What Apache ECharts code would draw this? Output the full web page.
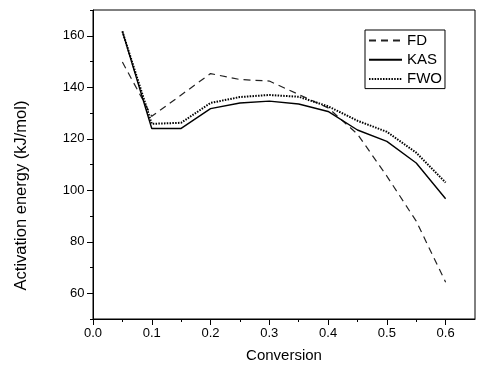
<!DOCTYPE html>
<html>
<head>
<meta charset="utf-8">
<script src="https://cdn.jsdelivr.net/npm/echarts@6/dist/echarts.min.js"></script>
<style>
html,body{margin:0;padding:0;background:#fff;}
#chart{width:486px;height:369px;}
</style>
</head>
<body>
<div id="chart"></div>
<script>
// Data
var conversion = [0.05, 0.1, 0.15, 0.2, 0.25, 0.3, 0.35, 0.4, 0.45, 0.5, 0.55, 0.6];
var fdValues  = [149.8, 128.7, 137.0, 145.3, 143.0, 142.4, 137.2, 132.0, 121.8, 105.5, 88.0, 64.3];
var kasValues = [161.7, 124.0, 124.0, 131.7, 133.9, 134.6, 133.5, 130.6, 123.4, 119.0, 110.6, 96.7];
var fwoValues = [161.7, 125.8, 126.2, 133.9, 136.2, 137.0, 136.3, 132.6, 127.0, 122.7, 114.6, 103.0];
var seriesNames = ['FD', 'KAS', 'FWO'];
var xMajorTicks = [0, 0.1, 0.2, 0.3, 0.4, 0.5, 0.6];
var xMinorTicks = [0.05, 0.15, 0.25, 0.35, 0.45, 0.55];
var yMajorTicks = [60, 80, 100, 120, 140, 160];
var yMinorTicks = [50, 70, 90, 110, 130, 150, 170];
var xTitle = 'Conversion';
var yTitle = 'Activation energy (kJ/mol)';

function pairs(xs, ys) {
  return xs.map(function (x, i) { return [x, ys[i]]; });
}

var font = 'Liberation Sans, Arial, sans-serif';
var chart = echarts.init(document.getElementById('chart'), null, {renderer: 'canvas'});
chart.setOption({
  animation: false,
  backgroundColor: '#fff',
  grid: {
    left: 93, right: 11, top: 10, bottom: 50,
    show: true, borderColor: '#000', borderWidth: 1, backgroundColor: 'transparent'
  },
  legend: {
    orient: 'vertical',
    left: 365, top: 30,
    padding: [3, 3, 2, 3],
    itemGap: 4.3,
    itemWidth: 33, itemHeight: 14,
    borderColor: '#000', borderWidth: 1,
    backgroundColor: '#fff',
    itemStyle: {opacity: 0, borderWidth: 0},
    data: seriesNames,
    textStyle: {fontFamily: font, fontSize: 15, color: '#000', lineHeight: 14}
  },
  xAxis: [{
    type: 'value', min: 0, max: 0.65, position: 'bottom',
    name: xTitle, nameLocation: 'middle', nameGap: 29,
    nameTextStyle: {fontFamily: font, fontSize: 15, color: '#000'},
    axisLine: {show: true, lineStyle: {color: '#000', width: 1}},
    axisTick: {show: true, length: 6, inside: false, customValues: xMajorTicks, lineStyle: {color: '#000'}},
    axisLabel: {fontFamily: font, fontSize: 13, color: '#000', margin: 8, customValues: xMajorTicks,
      formatter: function (v) { return Number(v).toFixed(1); }},
    splitLine: {show: false}
  }, {
    type: 'value', min: 0, max: 0.65, position: 'bottom',
    axisLine: {show: false},
    axisTick: {show: true, length: 3, inside: false, customValues: xMinorTicks, lineStyle: {color: '#000'}},
    axisLabel: {show: false},
    splitLine: {show: false}
  }],
  yAxis: [{
    type: 'value', min: 50, max: 170, position: 'left',
    name: yTitle, nameLocation: 'middle', nameGap: 63, nameRotate: 90,
    nameTextStyle: {fontFamily: font, fontSize: 16.5, color: '#000', padding: [0, 62, 0, 0]},
    axisLine: {show: true, lineStyle: {color: '#000', width: 1}},
    axisTick: {show: true, length: 6, inside: false, customValues: yMajorTicks, lineStyle: {color: '#000'}},
    axisLabel: {fontFamily: font, fontSize: 13, color: '#000', margin: 8.5, customValues: yMajorTicks},
    splitLine: {show: false}
  }, {
    type: 'value', min: 50, max: 170, position: 'left',
    axisLine: {show: false},
    axisTick: {show: true, length: 3, inside: false, customValues: yMinorTicks, lineStyle: {color: '#000'}},
    axisLabel: {show: false},
    splitLine: {show: false}
  }],
  series: [{
    name: seriesNames[0], type: 'line', xAxisIndex: 0, yAxisIndex: 0,
    data: pairs(conversion, fdValues), symbol: 'none',
    lineStyle: {color: '#222', width: 1.2, type: [7, 5]},
    itemStyle: {color: '#222'}
  }, {
    name: seriesNames[1], type: 'line', xAxisIndex: 0, yAxisIndex: 0,
    data: pairs(conversion, kasValues), symbol: 'none',
    lineStyle: {color: '#000', width: 1.4, type: 'solid'},
    itemStyle: {color: '#000'}
  }, {
    name: seriesNames[2], type: 'line', xAxisIndex: 0, yAxisIndex: 0,
    data: pairs(conversion, fwoValues), symbol: 'none',
    lineStyle: {color: '#000', width: 2, type: [1.5, 1.3]},
    itemStyle: {color: '#000'}
  }]
});
</script>
</body>
</html>
